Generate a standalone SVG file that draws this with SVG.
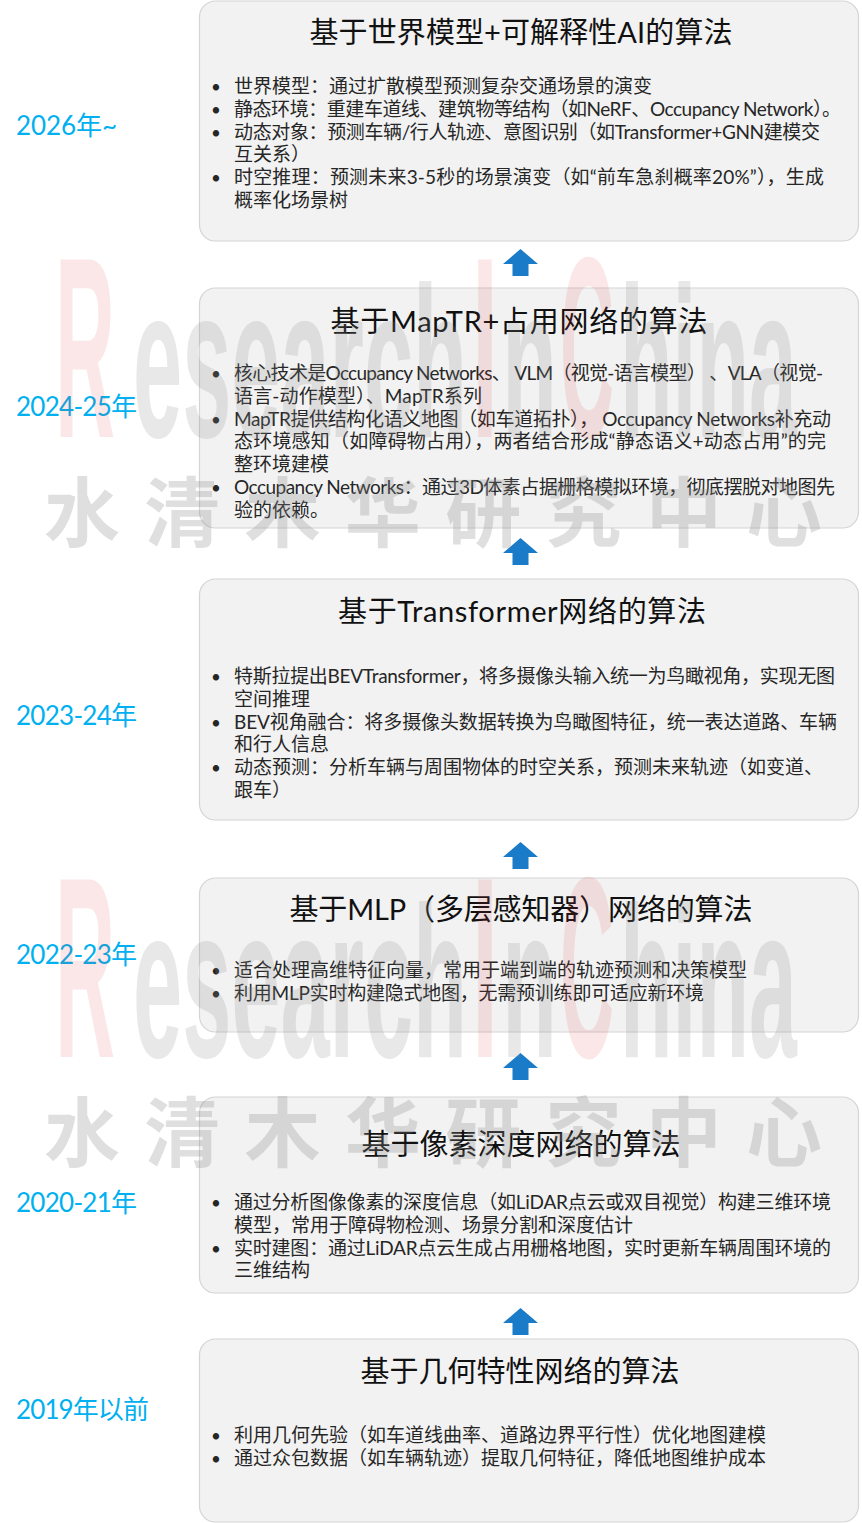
<svg xmlns="http://www.w3.org/2000/svg" xmlns:xlink="http://www.w3.org/1999/xlink" width="862" height="1523" viewBox="0 0 862 1523">
<style>
.box{fill:#f2f2f2;stroke:#d4d4d4;stroke-width:1.2}
.t{font-family:Lato,"Noto Sans CJK SC",sans-serif;font-size:29px;fill:#111111;text-anchor:middle}
.b{font-family:Lato,"Noto Sans CJK SC",sans-serif;font-size:19px;fill:#262626}
.d{font-family:Lato,"Noto Sans CJK SC",sans-serif;font-size:17px;fill:#262626;text-anchor:middle}
.y{font-family:Lato,"Noto Sans CJK SC",sans-serif;font-size:26px;fill:#00b0f0}
.arr{fill:#1a7bc9}
.wr{font-family:"Liberation Sans",sans-serif;font-weight:bold;font-size:60px;fill:#e03a3a;fill-opacity:0.12}
.wg{font-family:"Liberation Sans",sans-serif;font-weight:bold;font-size:60px;fill:#8c8c8c;fill-opacity:0.2}
.wc{font-family:"Noto Sans CJK SC",sans-serif;font-weight:bold;font-size:76px;fill:#8c8c8c;fill-opacity:0.28}
</style>
<defs>
<path id="arrow" d="M0,0 L17.5,15 L8,15 L8,27 L-8,27 L-8,15 L-17.5,15 Z"/>
<g id="wm">
<text class="wr" transform="translate(55,437) scale(1,4.3)" textLength="60" lengthAdjust="spacingAndGlyphs">R</text>
<text class="wg" transform="translate(133,437) scale(1,3.6)" textLength="334" lengthAdjust="spacingAndGlyphs">esearch</text>
<text class="wr" transform="translate(472,437) scale(1,4.3)" textLength="26" lengthAdjust="spacingAndGlyphs">I</text>
<text class="wg" transform="translate(502,437) scale(1,3.6)" textLength="55" lengthAdjust="spacingAndGlyphs">n</text>
<text class="wr" transform="translate(560,437) scale(1,4.3)" textLength="54" lengthAdjust="spacingAndGlyphs">C</text>
<text class="wg" transform="translate(620,437) scale(1,3.6)" textLength="177" lengthAdjust="spacingAndGlyphs">hina</text>
<text class="wc" x="44" y="541" textLength="778" lengthAdjust="spacing">水清木华研究中心</text>
</g>
</defs>
<rect width="862" height="1523" fill="#ffffff"/>

<g id="years">
<text class="y" x="16" y="135" textLength="101">2026年~</text>
<text class="y" x="16" y="416" textLength="121">2024-25年</text>
<text class="y" x="16" y="725" textLength="121">2023-24年</text>
<text class="y" x="16" y="964" textLength="121">2022-23年</text>
<text class="y" x="16" y="1212" textLength="121">2020-21年</text>
<text class="y" x="16" y="1419" textLength="133">2019年以前</text>
</g>

<g id="node1">
<rect class="box" x="199.5" y="1" width="659" height="240" rx="16"/>
<text class="t" x="521" y="43" textLength="423">基于世界模型+可解释性AI的算法</text>
<text class="d" x="216" y="93">•</text><text class="b" x="234" y="93">世界模型：通过扩散模型预测复杂交通场景的演变</text>
<text class="d" x="216" y="115.8">•</text><text class="b" x="234" y="115.8" textLength="607">静态环境：重建车道线、建筑物等结构（如NeRF、Occupancy Network）。</text>
<text class="d" x="216" y="138.6">•</text><text class="b" x="234" y="138.6" textLength="586">动态对象：预测车辆/行人轨迹、意图识别（如Transformer+GNN建模交</text>
<text class="b" x="234" y="161.4">互关系）</text>
<text class="d" x="216" y="184.2">•</text><text class="b" x="234" y="184.2" textLength="590">时空推理：预测未来3-5秒的场景演变（如“前车急刹概率20%”），生成</text>
<text class="b" x="234" y="207">概率化场景树</text>
</g>

<g id="node2">
<rect class="box" x="199.5" y="288" width="659" height="240" rx="16"/>
<text class="t" x="519" y="332" textLength="377">基于MapTR+占用网络的算法</text>
<text class="d" x="216" y="380">•</text><text class="b" x="234" y="380" textLength="589">核心技术是Occupancy Networks、 VLM（视觉-语言模型） 、VLA（视觉-</text>
<text class="b" x="234" y="402.8" textLength="248">语言-动作模型）、MapTR系列</text>
<text class="d" x="216" y="425.6">•</text><text class="b" x="234" y="425.6" textLength="597">MapTR提供结构化语义地图（如车道拓扑）， Occupancy Networks补充动</text>
<text class="b" x="234" y="448.4" textLength="592">态环境感知（如障碍物占用），两者结合形成“静态语义+动态占用”的完</text>
<text class="b" x="234" y="471.2">整环境建模</text>
<text class="d" x="216" y="494">•</text><text class="b" x="234" y="494" textLength="601">Occupancy Networks：通过3D体素占据栅格模拟环境，彻底摆脱对地图先</text>
<text class="b" x="234" y="516.8">验的依赖。</text>
</g>

<g id="node3">
<rect class="box" x="199.5" y="579" width="659" height="241" rx="16"/>
<text class="t" x="522" y="622" textLength="368">基于Transformer网络的算法</text>
<text class="d" x="216" y="683">•</text><text class="b" x="234" y="683" textLength="601">特斯拉提出BEVTransformer，将多摄像头输入统一为鸟瞰视角，实现无图</text>
<text class="b" x="234" y="705.8">空间推理</text>
<text class="d" x="216" y="728.6">•</text><text class="b" x="234" y="728.6" textLength="603">BEV视角融合：将多摄像头数据转换为鸟瞰图特征，统一表达道路、车辆</text>
<text class="b" x="234" y="751.4">和行人信息</text>
<text class="d" x="216" y="774.2">•</text><text class="b" x="234" y="774.2">动态预测：分析车辆与周围物体的时空关系，预测未来轨迹（如变道、</text>
<text class="b" x="234" y="797">跟车）</text>
</g>

<g id="node4">
<rect class="box" x="199.5" y="878" width="659" height="154" rx="16"/>
<text class="t" x="521" y="920" textLength="463">基于MLP（多层感知器）网络的算法</text>
<text class="d" x="216" y="977">•</text><text class="b" x="234" y="977">适合处理高维特征向量，常用于端到端的轨迹预测和决策模型</text>
<text class="d" x="216" y="1000">•</text><text class="b" x="234" y="1000" textLength="470">利用MLP实时构建隐式地图，无需预训练即可适应新环境</text>
</g>

<g id="node5">
<rect class="box" x="199.5" y="1097" width="659" height="196" rx="16"/>
<text class="t" x="521" y="1155">基于像素深度网络的算法</text>
<text class="d" x="216" y="1209">•</text><text class="b" x="234" y="1209" textLength="597">通过分析图像像素的深度信息（如LiDAR点云或双目视觉）构建三维环境</text>
<text class="b" x="234" y="1231.8">模型，常用于障碍物检测、场景分割和深度估计</text>
<text class="d" x="216" y="1254.6">•</text><text class="b" x="234" y="1254.6" textLength="597">实时建图：通过LiDAR点云生成占用栅格地图，实时更新车辆周围环境的</text>
<text class="b" x="234" y="1277.4">三维结构</text>
</g>

<g id="node6">
<rect class="box" x="199.5" y="1339" width="659" height="183" rx="16"/>
<text class="t" x="520" y="1382">基于几何特性网络的算法</text>
<text class="d" x="216" y="1442">•</text><text class="b" x="234" y="1442">利用几何先验（如车道线曲率、道路边界平行性）优化地图建模</text>
<text class="d" x="216" y="1465">•</text><text class="b" x="234" y="1465">通过众包数据（如车辆轨迹）提取几何特征，降低地图维护成本</text>
</g>

<g id="connectors">
<use href="#arrow" class="arr" x="520.5" y="249"/>
<use href="#arrow" class="arr" x="520.5" y="538"/>
<use href="#arrow" class="arr" x="520.5" y="842"/>
<use href="#arrow" class="arr" x="520.5" y="1053"/>
<use href="#arrow" class="arr" x="520.5" y="1308"/>
</g>

<g id="watermark">
<use href="#wm"/>
<use href="#wm" y="620"/>
</g>
</svg>
